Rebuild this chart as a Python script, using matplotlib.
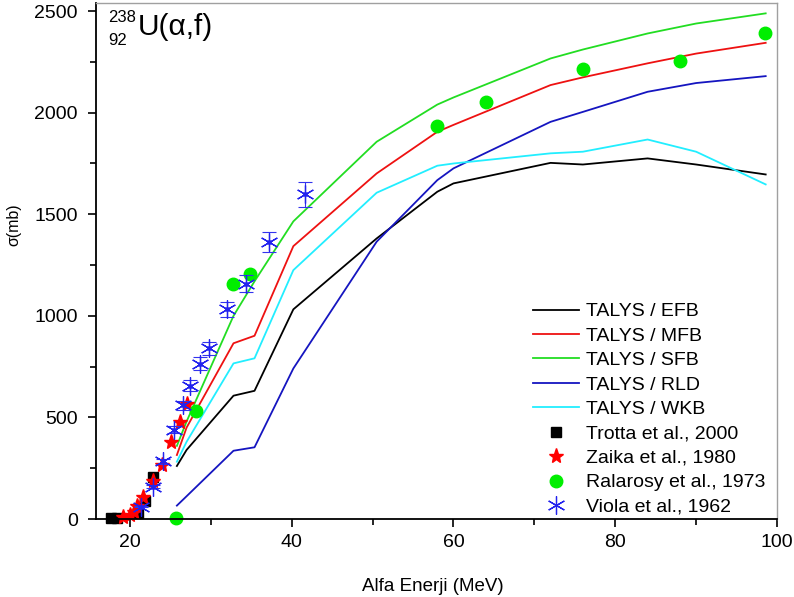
import numpy as np
import matplotlib
matplotlib.use("Agg")
from matplotlib import pyplot as plt
from matplotlib.ticker import MultipleLocator

plt.rcParams["font.family"] = ["Liberation Sans", "DejaVu Sans"]

# TALYS model energies (MeV) and cross sections (mb)
e_model = [25.8, 27.0, 32.8, 35.4, 40.2, 50.5, 58.0, 60.0, 72.0, 76.0, 84.0, 90.0, 98.6]
efb = [261, 340, 607, 631, 1032, 1381, 1611, 1652, 1753, 1745, 1775, 1745, 1696]
mfb = [315, 450, 865, 902, 1343, 1701, 1906, 1940, 2136, 2174, 2243, 2291, 2344]
sfb = [360, 480, 1000, 1170, 1465, 1857, 2040, 2075, 2267, 2311, 2390, 2439, 2489]
rld = [66, 112, 336, 353, 741, 1365, 1668, 1726, 1955, 2004, 2103, 2146, 2180]
wkb = [282, 380, 766, 791, 1225, 1606, 1739, 1750, 1800, 1808, 1868, 1808, 1647]

# experimental data
trotta_e = [17.6, 18.4, 21.0, 21.9, 22.9]
trotta_s = [5, 5, 28, 88, 205]

zaika_e = [19.2, 20.0, 20.5, 20.9, 21.6, 22.9, 23.9, 25.1, 26.2, 27.0]
zaika_s = [10, 18, 35, 65, 110, 187, 266, 380, 478, 568]

ralarosy_e = [25.7, 28.2, 32.7, 34.9, 58.0, 64.0, 76.0, 88.0, 98.5]
ralarosy_s = [5, 530, 1157, 1206, 1934, 2054, 2215, 2254, 2393]

viola_e = [21.4, 22.9, 24.1, 25.4, 26.6, 27.4, 28.7, 29.8, 32.0, 34.4, 37.2, 41.6]
viola_s = [60, 159, 284, 440, 561, 656, 765, 840, 1032, 1157, 1362, 1598]
viola_err = [3, 6, 11, 18, 22, 26, 30, 33, 38, 42, 50, 60]

fig = plt.figure(figsize=(7.94, 5.97), dpi=100)
ax = fig.add_axes([96/794, 78/597, 681/794, 516/597])

ax.plot(e_model, efb, color="black", lw=1.3, label="TALYS / EFB")
ax.plot(e_model, mfb, color="#ee1111", lw=1.3, label="TALYS / MFB")
ax.plot(e_model, sfb, color="#22dd22", lw=1.3, label="TALYS / SFB")
ax.plot(e_model, rld, color="#1515c0", lw=1.3, label="TALYS / RLD")
ax.plot(e_model, wkb, color="#22eeff", lw=1.3, label="TALYS / WKB")

ax.plot(trotta_e, trotta_s, ls="none", marker="s", ms=7, color="black",
        label="Trotta et al., 2000", clip_on=False)
ax.plot(zaika_e, zaika_s, ls="none", marker="*", ms=11, color="red",
        label="Zaika et al., 1980", clip_on=False)
ax.plot(ralarosy_e, ralarosy_s, ls="none", marker="o", ms=9, color="#00ee00",
        label="Ralarosy et al., 1973", clip_on=False)
ax.errorbar(viola_e, viola_s, yerr=viola_err, ls="none", ecolor="#3333ee",
            elinewidth=0.8, capsize=5, capthick=0.8)
ax.plot(viola_e, viola_s, ls="none", marker=(6, 2, 0), ms=13, mew=0.9,
        color="#2222ee", label="Viola et al., 1962")
ax.plot(viola_e, viola_s, ls="none", marker="o", ms=2.5, color="#2222ee")

ax.set_xlim(15.8, 100)
ax.set_ylim(0, 2540)
ax.xaxis.set_major_locator(MultipleLocator(20))
ax.xaxis.set_minor_locator(MultipleLocator(10))
ax.yaxis.set_major_locator(MultipleLocator(500))
ax.yaxis.set_minor_locator(MultipleLocator(250))
ax.tick_params(which="major", direction="out", length=6, width=1.2,
               labelsize=14, pad=7)
ax.tick_params(axis="x", which="major", pad=5)
ax.tick_params(which="minor", direction="out", length=4, width=1.2)
ax.tick_params(top=False, right=False, which="both")
for s in ["left", "bottom"]:
    ax.spines[s].set_linewidth(1.3)
for s in ["top", "right"]:
    ax.spines[s].set_color("#a0a0a0")
    ax.spines[s].set_linewidth(1.0)

ax.set_xlabel("Alfa Enerji (MeV)", fontsize=13.5)
ax.xaxis.set_label_coords(0.495, -0.114)
ax.set_ylabel("σ(mb)", fontsize=11.5)
ax.yaxis.set_label_coords(-0.109, 0.57)

ax.text(0.018, 0.972, "238", transform=ax.transAxes, fontsize=12, va="center")
ax.text(0.018, 0.928, "92", transform=ax.transAxes, fontsize=12, va="center")
ax.text(0.062, 0.953, "U(α,f)", transform=ax.transAxes, fontsize=21.5, va="center")

ax.legend(loc="upper left", bbox_to_anchor=(0.63, 0.434), frameon=False,
          fontsize=14, handlelength=2.4, handletextpad=0.36, labelspacing=0.35,
          borderaxespad=0.0)

fig.savefig("out.png", dpi=100)
